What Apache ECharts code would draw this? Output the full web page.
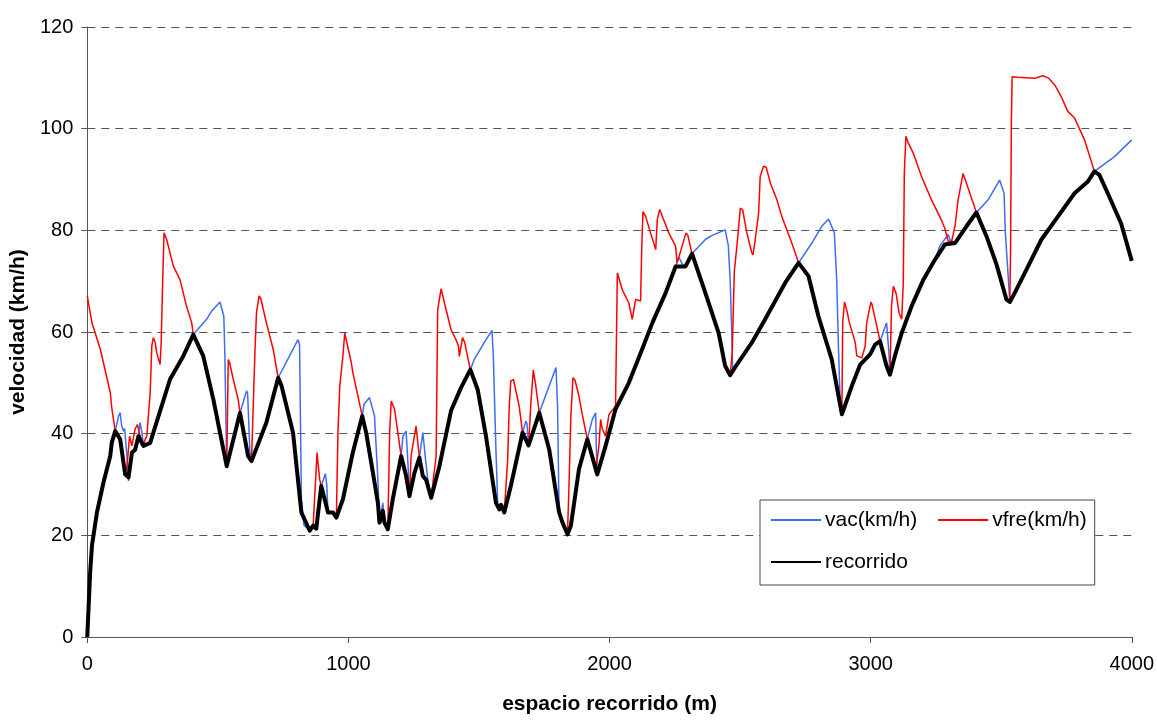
<!DOCTYPE html>
<html>
<head>
<meta charset="utf-8">
<script src="https://cdn.jsdelivr.net/npm/echarts@6/dist/echarts.min.js"></script>
<style>
  html, body { margin: 0; padding: 0; background: #fff; }
  #chart { width: 1157px; height: 720px; }
</style>
</head>
<body>
<div id="chart"></div>
<script>
// [distancia (m), velocidad (km/h)]
const vac = [
  [0,0],[11,12.7],[18,18],[37,24.5],[62,30.4],[88,35.6],[94,38.3],[107,40.5],[120,43.5],[126,44.1],
  [132,41.5],[139,40.5],[143,41],[152,35.6],[158,30.7],[171,36.3],[183,36.8],[196,39.5],[202,42.2],[210,40],
  [215,37.6],[241,38.2],[253,40.2],[317,50.7],[368,55.3],[406,59.5],[457,62.5],[476,64.1],[508,65.9],[515,66],
  [523,63.1],[527,55.3],[534,33.6],[585,44.1],[610,48.4],[614,48],[623,36.3],[629,34.6],[686,42.2],[731,51],
  [807,58.5],[813,57.5],[820,27.1],[830,22],[852,20.9],[865,21.9],[877,21.3],[896,29.7],[912,32.1],[917,30],
  [922,24.5],[941,24.5],[954,23.5],[979,27.1],[1017,36.3],[1053,43.5],[1060,45.8],[1081,47.1],[1088,47],[1100,43.5],
  [1113,31],[1119,22.5],[1132,26.4],[1138,22.5],[1151,21.2],[1170,27.1],[1202,35.6],[1209,39.5],[1221,40.5],[1228,34.3],
  [1234,27.7],[1253,32.3],[1272,35.3],[1285,40.2],[1290,40.3],[1298,33.7],[1304,31],[1317,27.4],[1349,33.7],[1393,44.5],
  [1431,49],[1467,52.6],[1482,54.6],[1527,58.5],[1550,60.3],[1555,55.3],[1565,36.9],[1572,26],[1578,25.1],[1585,26],
  [1597,24.5],[1622,29.7],[1667,40.2],[1680,42.5],[1684,42],[1690,37.7],[1731,44.1],[1769,49.4],[1795,53],[1801,45.4],
  [1807,23.8],[1820,22.5],[1839,20.2],[1852,21.9],[1883,33],[1915,38.9],[1934,42.8],[1947,44.1],[1950,36.2],[1953,32.3],
  [1985,37.6],[2023,44.8],[2074,50],[2125,56.6],[2164,61.8],[2215,67.7],[2253,72.9],[2266,74.7],[2280,73.2],[2291,72.9],
  [2316,75.4],[2367,78.2],[2393,79],[2443,80.1],[2450,80.3],[2455,77],[2462,70.3],[2468,60],[2472,52],[2480,53],
  [2545,57.9],[2596,62.5],[2673,69.7],[2724,73.6],[2775,77.5],[2813,80.8],[2838,82.2],[2845,81.5],[2861,79.5],[2870,70.3],
  [2877,56.6],[2883,46.8],[2890,43.8],[2928,49.4],[2960,53.6],[2998,55.6],[3017,57.5],[3036,58.2],[3061,61.8],[3066,61.8],
  [3070,56],[3074,51.6],[3093,55.3],[3119,59.8],[3157,65.1],[3202,70.3],[3246,74.2],[3265,76.9],[3297,79.2],[3305,78],
  [3323,77.5],[3367,80.8],[3405,83.5],[3450,86],[3494,89.9],[3500,90],[3511,87.3],[3516,79.5],[3526,71.6],[3533,65.9],
  [3550,67.5],[3590,71.6],[3654,78.2],[3717,82.7],[3781,87.3],[3832,89.6],[3857,91.6],[3883,92.6],[3934,94.5],[4000,97.8]
];

const vfre = [
  [0,67.1],[18,61.8],[50,56.6],[88,48.1],[94,45],[107,40.5],[126,38.9],[145,32],[152,33.6],[162,39.5],
  [171,37.6],[183,40.9],[192,41.8],[200,40],[215,37.6],[222,38.9],[228,39.5],[241,48.1],[247,57.2],[253,58.9],
  [260,58],[266,55.9],[279,53.6],[283,57.9],[289,70.3],[294,79.5],[299,79.5],[304,78.2],[330,72.9],[355,70.3],
  [380,65.1],[400,61.8],[406,59.5],[444,55.3],[483,46.7],[534,33.6],[540,54.6],[545,54],[559,50.7],[578,46.7],
  [585,44.1],[592,44],[616,35.6],[629,34.6],[642,55.9],[648,63.8],[658,67.1],[665,66.5],[686,61.8],[712,56.6],
  [731,51],[744,49.4],[788,40.2],[820,24.5],[852,20.9],[865,21.9],[880,36.3],[884,34],[890,31],[896,29.7],
  [922,24.5],[941,24.5],[954,23.5],[960,40.2],[967,49.4],[979,55.3],[986,59.8],[990,59.5],[1011,54],[1017,52],
  [1053,43.5],[1068,40.2],[1094,32.3],[1113,26.4],[1119,22.5],[1132,24.8],[1138,22.5],[1151,21.2],[1158,40.2],[1164,46.4],
  [1177,44.8],[1190,40],[1202,35.6],[1221,31.7],[1234,27.7],[1240,35.6],[1259,41.5],[1272,35.3],[1285,31.7],[1298,30.9],
  [1317,27.4],[1336,35.6],[1342,64.4],[1355,68.5],[1360,68.4],[1368,65.7],[1393,60.5],[1412,58.5],[1422,57.2],[1425,55.2],
  [1437,58.9],[1445,58],[1467,52.6],[1495,48.7],[1527,39.5],[1565,26.4],[1578,25.1],[1585,26],[1597,24.5],[1610,35],
  [1616,45.4],[1622,50.4],[1632,50.7],[1654,45.4],[1667,40.2],[1690,37.7],[1699,46.1],[1708,52.5],[1716,50],[1731,44.1],
  [1769,36.9],[1807,24.5],[1820,22.5],[1839,20.2],[1845,30],[1852,43.5],[1860,51],[1868,50.5],[1883,47.4],[1895,44],
  [1915,38.9],[1947,32.3],[1953,32],[1960,38],[1966,42.8],[1972,41],[1985,39.5],[1998,43.8],[2023,45.4],[2030,71.6],
  [2049,68.3],[2074,65.7],[2087,62.5],[2100,66.4],[2119,66.1],[2123,75.6],[2128,83.7],[2138,82.8],[2157,79.5],[2177,76.2],
  [2183,82.1],[2192,84.1],[2227,79.5],[2253,76.9],[2259,73.6],[2265,73.5],[2278,76.9],[2293,79.5],[2300,79],[2316,75.4],
  [2367,67.7],[2418,59.8],[2443,53.3],[2462,51.5],[2470,56],[2478,72],[2488,76.9],[2501,84.4],[2510,84],[2526,79.5],
  [2545,75.6],[2550,75.2],[2558,78.2],[2571,83.4],[2577,90.6],[2590,92.6],[2600,92.4],[2616,89.3],[2641,86],[2660,82.7],
  [2698,77.5],[2724,73.6],[2762,71],[2800,63.1],[2851,54.6],[2877,47.4],[2890,43.8],[2893,61.8],[2900,65.9],[2910,64],
  [2918,62],[2941,57.9],[2947,55.3],[2966,54.9],[2979,57.2],[2985,61.8],[3001,65.9],[3005,65.5],[3036,58.2],[3061,53.3],
  [3074,51.6],[3080,65.1],[3087,69],[3098,67.5],[3109,63.7],[3119,62.5],[3125,69.6],[3129,91.2],[3135,98.5],[3144,97.2],
  [3163,95.2],[3195,90.6],[3233,86],[3265,82.7],[3284,80.4],[3297,77.8],[3310,77.8],[3323,80.8],[3335,86],[3354,91.2],
  [3360,91],[3380,87.3],[3405,83.5],[3444,78.8],[3482,73.3],[3520,66.4],[3533,65.9],[3536,76.2],[3539,101.7],[3542,110.2],
  [3564,110.1],[3628,109.9],[3660,110.4],[3680,110],[3705,108.6],[3730,106.3],[3755,103.4],[3781,102.1],[3819,97.8],[3857,91.6],
  [3876,90.9],[3908,87.3],[3959,81.4],[4000,74]
];

const recorrido = [
  [0,0],[11,12.7],[18,18],[37,24.5],[62,30.4],[88,35.6],[94,38.3],[107,40.5],[126,38.9],[145,32],
  [158,31.4],[171,36.3],[183,36.8],[196,39.5],[215,37.6],[241,38.2],[253,40.2],[317,50.7],[368,55.3],[406,59.5],
  [444,55.3],[483,46.7],[534,33.6],[585,44.1],[592,44],[616,35.6],[629,34.6],[686,42.2],[731,51],[744,49.4],
  [788,40.2],[820,24.5],[852,20.9],[865,21.9],[877,21.3],[896,29.7],[922,24.5],[941,24.5],[954,23.5],[979,27.1],
  [1017,36.3],[1053,43.5],[1068,40.2],[1094,32.3],[1113,26.4],[1119,22.5],[1132,24.8],[1138,22.5],[1151,21.2],[1170,27.1],
  [1202,35.6],[1221,31.7],[1234,27.7],[1253,32.3],[1272,35.3],[1285,31.7],[1298,30.9],[1317,27.4],[1349,33.7],[1393,44.5],
  [1431,49],[1467,52.6],[1495,48.7],[1527,39.5],[1565,26.4],[1578,25.1],[1585,26],[1597,24.5],[1622,29.7],[1667,40.2],
  [1690,37.7],[1731,44.1],[1769,36.9],[1807,24.5],[1820,22.5],[1839,20.2],[1852,21.9],[1883,33],[1915,38.9],[1953,32],
  [1985,37.6],[2023,44.8],[2074,50],[2125,56.6],[2164,61.8],[2215,67.7],[2253,72.9],[2291,72.9],[2316,75.4],[2367,67.7],
  [2418,59.8],[2443,53.3],[2462,51.5],[2480,53],[2545,57.9],[2596,62.5],[2673,69.7],[2724,73.6],[2762,71],[2800,63.1],
  [2851,54.6],[2877,47.4],[2890,43.8],[2928,49.4],[2960,53.6],[2998,55.6],[3017,57.5],[3036,58.2],[3061,53.3],[3074,51.6],
  [3093,55.3],[3119,59.8],[3157,65.1],[3202,70.3],[3246,74.2],[3284,77.2],[3323,77.5],[3367,80.8],[3405,83.5],[3444,78.8],
  [3482,73.3],[3520,66.4],[3533,65.9],[3550,67.5],[3590,71.6],[3654,78.2],[3717,82.7],[3781,87.3],[3832,89.6],[3857,91.6],
  [3876,90.9],[3908,87.3],[3959,81.4],[4000,74]
];

const seriesNames = ["vac(km/h)", "vfre(km/h)", "recorrido"];

const font = "'Liberation Sans', Arial, sans-serif";
const chart = echarts.init(document.getElementById("chart"), null, { renderer: "canvas" });

chart.setOption({
  animation: false,
  backgroundColor: "#fff",
  grid: { left: 87, right: 23, top: 27, bottom: 77 },
  legend: {
    data: seriesNames,
    left: 760,
    top: 500,
    width: 336,
    orient: "horizontal",
    itemWidth: 50,
    itemHeight: 14,
    itemGap: 20,
    padding: [9, 8, 12, 10],
    borderColor: "#444",
    borderWidth: 1,
    backgroundColor: "#fff",
    itemStyle: { color: "transparent", borderWidth: 0 },
    textStyle: { fontFamily: font, fontSize: 21, color: "#000", lineHeight: 22, padding: [0, 0, 0, -1] }
  },
  xAxis: {
    type: "value",
    min: 0,
    max: 4000,
    interval: 1000,
    name: "espacio recorrido (m)",
    nameLocation: "middle",
    nameGap: 57,
    nameTextStyle: { fontFamily: font, fontSize: 21, fontWeight: "bold", color: "#000" },
    axisLine: { lineStyle: { color: "#555", width: 1 } },
    axisTick: { show: true, inside: false, length: 6, lineStyle: { color: "#555" } },
    axisLabel: { fontFamily: font, fontSize: 20, color: "#000", margin: 17, formatter: v => String(v) },
    splitLine: { show: false }
  },
  yAxis: {
    type: "value",
    min: 0,
    max: 120,
    interval: 20,
    name: "velocidad (km/h)",
    nameLocation: "middle",
    nameGap: 55,
    nameTextStyle: { fontFamily: font, fontSize: 21, fontWeight: "bold", color: "#000" },
    axisLine: { show: true, lineStyle: { color: "#555", width: 1 } },
    axisTick: { show: true, inside: false, length: 6, lineStyle: { color: "#555" } },
    axisLabel: { fontFamily: font, fontSize: 20, color: "#000", margin: 14 },
    splitLine: { show: true, lineStyle: { color: "#555", width: 1, type: [8, 6] } }
  },
  series: [
    {
      name: seriesNames[0], type: "line", data: vac, showSymbol: false, symbol: "none",
      lineStyle: { color: "#3d6cf5", width: 1.5 }, itemStyle: { color: "#3d6cf5" }
    },
    {
      name: seriesNames[1], type: "line", data: vfre, showSymbol: false, symbol: "none",
      lineStyle: { color: "#ff0000", width: 1.5 }, itemStyle: { color: "#ff0000" }
    },
    {
      name: seriesNames[2], type: "line", data: recorrido, showSymbol: false, symbol: "none",
      lineStyle: { color: "#000", width: 4, join: "round" }, itemStyle: { color: "#000" }
    }
  ]
});
</script>
</body>
</html>
